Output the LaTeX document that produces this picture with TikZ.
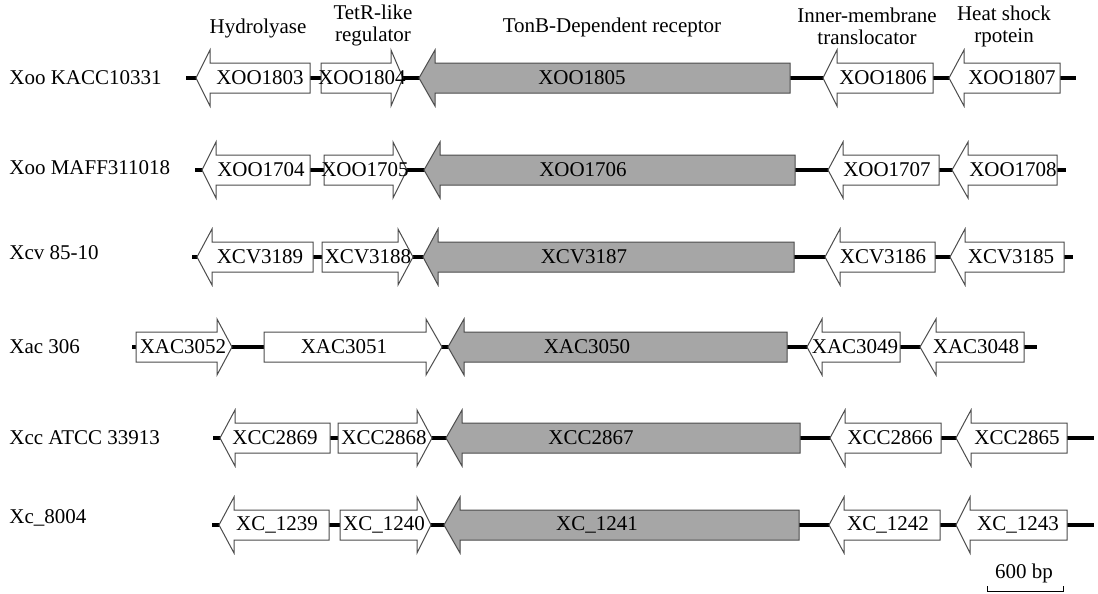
\documentclass[tikz,border=0pt]{standalone}
\usepackage{fontspec}
\setmainfont{Liberation Serif}
\usepackage{tikz}

\definecolor{genegray}{RGB}{166,166,166}
\tikzset{
  genebox/.style={draw=black!70, line width=0.5pt},
  backbone/.style={line width=2pt, black},
  genelabel/.style={inner sep=0pt},
  toplabel/.style={align=center, inner sep=0pt},
}
% gene arrow: [fill]{name}{tail x}{head base x}{tip x}{y}{label x}{text}
\newcommand{\gene}[8][white]{%
  \draw[genebox, fill=#1] (#3,#6-15) -- (#4,#6-15) -- (#4,#6-28) -- (#5,#6)
    -- (#4,#6+28) -- (#4,#6+15) -- (#3,#6+15) -- cycle;
  \node[genelabel] (#2) at (#7,#6) {#8};}

\begin{document}
\begin{tikzpicture}[x=0.5pt, y=-0.5pt, font=\fontsize{10.5}{11}\selectfont]
    \useasboundingbox (0,0) rectangle (1098,594);

    % functions on top
    \node[toplabel] (hydro) at (258,28) {Hydrolyase};
    \node[toplabel] (tetr) at (373,25) {TetR-like\\regulator};
    \node[toplabel] (tonb) at (612,27) {TonB-Dependent receptor};
    \node[toplabel] (inner) at (867,26) {Inner-membrane\\translocator};
    \node[toplabel] (heat) at (1004,26) {Heat shock\\rpotein};

    % strain names
    \node[anchor=west, inner sep=0pt] (s1) at (9,78) {Xoo KACC10331};
    \node[anchor=west, inner sep=0pt] (s2) at (9,168) {Xoo MAFF311018};
    \node[anchor=west, inner sep=0pt] (s3) at (9,253) {Xcv 85-10};
    \node[anchor=west, inner sep=0pt] (s4) at (9,347) {Xac 306};
    \node[anchor=west, inner sep=0pt] (s5) at (9,438) {Xcc ATCC 33913};
    \node[anchor=west, inner sep=0pt] (s6) at (9,518) {Xc\_8004};

    % backbones first, genes go on top of them
    \foreach \r/\y/\xa/\xb in {1/78/186/1076, 2/170/195/1066, 3/257/192/1073,
                               4/347/132/1037, 5/438/213/1094, 6/525/212/1094} {
        \coordinate (r\r a) at (\xa,\y);
        \coordinate (r\r b) at (\xb,\y);
        \draw[backbone] (r\r a) -- (r\r b);
    }

    % Xoo KACC10331
    \gene{x1803}{310}{210}{196}{78}{260}{XOO1803}
    \gene{x1804}{321}{391}{403}{78}{362}{XOO1804}
    \gene[genegray]{x1805}{790}{435}{419}{78}{582}{XOO1805}
    \gene{x1806}{933}{837}{823}{78}{883}{XOO1806}
    \gene{x1807}{1060}{964}{949}{78}{1012}{XOO1807}

    % Xoo MAFF311018
    \gene{x1704}{310}{216}{202}{170}{261}{XOO1704}
    \gene{x1705}{324}{393}{407}{170}{365}{XOO1705}
    \gene[genegray]{x1706}{795}{440}{424}{170}{583}{XOO1706}
    \gene{x1707}{939}{843}{828}{170}{887}{XOO1707}
    \gene{x1708}{1057}{968}{952}{170}{1013}{XOO1708}

    % Xcv 85-10
    \gene{v3189}{313}{212}{197}{257}{260}{XCV3189}
    \gene{v3188}{322}{398}{413}{257}{368}{XCV3188}
    \gene[genegray]{v3187}{794}{438}{423}{257}{584}{XCV3187}
    \gene{v3186}{935}{840}{825}{257}{883}{XCV3186}
    \gene{v3185}{1064}{965}{950}{257}{1011}{XCV3185}

    % Xac 306
    \gene{a3052}{136}{217}{232}{347}{183}{XAC3052}
    \gene{a3051}{264}{426}{442}{347}{344}{XAC3051}
    \gene[genegray]{a3050}{787}{464}{448}{347}{587}{XAC3050}
    \gene{a3049}{900}{822}{807}{347}{855}{XAC3049}
    \gene{a3048}{1024}{936}{920}{347}{976}{XAC3048}

    % Xcc ATCC 33913
    \gene{c2869}{330}{235}{220}{438}{275}{XCC2869}
    \gene{c2868}{338}{417}{432}{438}{384}{XCC2868}
    \gene[genegray]{c2867}{800}{462}{446}{438}{591}{XCC2867}
    \gene{c2866}{941}{845}{830}{438}{890}{XCC2866}
    \gene{c2865}{1067}{971}{956}{438}{1017}{XCC2865}

    % Xc_8004
    \gene{c1239}{329}{234}{219}{525}{277}{XC\_1239}
    \gene{c1240}{340}{417}{431}{525}{384}{XC\_1240}
    \gene[genegray]{c1241}{799}{460}{444}{525}{597}{XC\_1241}
    \gene{c1242}{940}{844}{829}{525}{888}{XC\_1242}
    \gene{c1243}{1067}{970}{956}{525}{1018}{XC\_1243}

    % scale bar
    \node[inner sep=0pt] (bp) at (1024,573) {600 bp};
    \coordinate (bpl) at (987,591);
    \coordinate (bpr) at (1063,591);
    \draw[line width=0.5pt] ([yshift=2.5pt]bpl) -- (bpl) -- (bpr) -- ([yshift=2.5pt]bpr);
\end{tikzpicture}
\end{document}
